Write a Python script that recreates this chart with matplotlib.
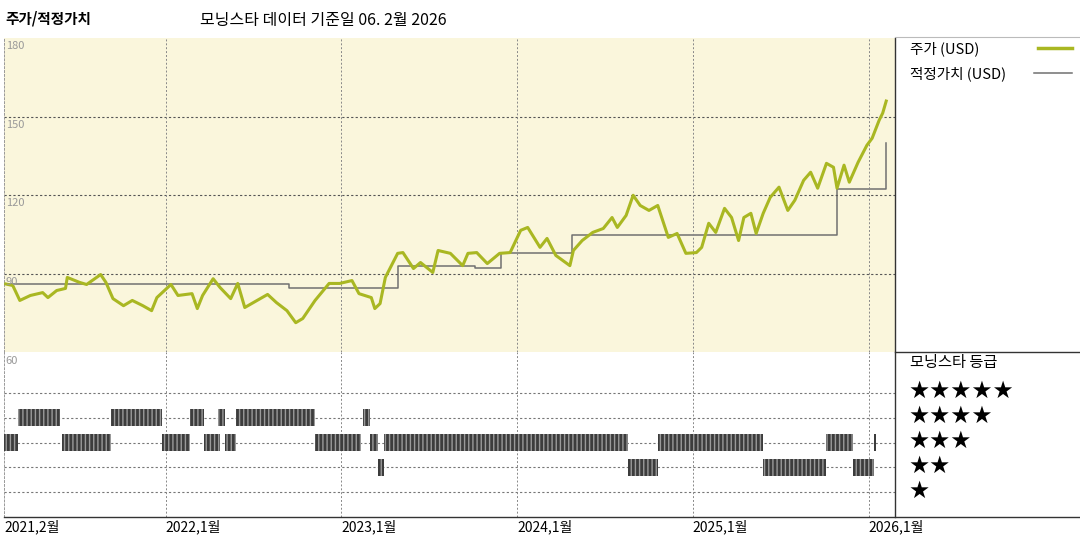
import numpy as np
import matplotlib.pyplot as plt
from matplotlib.lines import Line2D

plt.rcParams['font.family'] = ['Noto Sans CJK KR', 'DejaVu Sans']

# price (USD), time as decimal year
price_t = [2021.09, 2021.13, 2021.17, 2021.23, 2021.30, 2021.33, 2021.38, 2021.43, 2021.44, 2021.51,
           2021.55, 2021.63, 2021.66, 2021.70, 2021.76, 2021.81, 2021.87, 2021.92, 2021.95, 2022.03,
           2022.07, 2022.15, 2022.18, 2022.21, 2022.27, 2022.31, 2022.37, 2022.41, 2022.45, 2022.52,
           2022.58, 2022.63, 2022.69, 2022.74, 2022.78, 2022.85, 2022.93, 2022.99, 2023.06, 2023.10,
           2023.17, 2023.19, 2023.22, 2023.25, 2023.32, 2023.35, 2023.41, 2023.45, 2023.52, 2023.55,
           2023.62, 2023.69, 2023.72, 2023.77, 2023.83, 2023.90, 2023.96, 2024.02, 2024.06, 2024.13,
           2024.17, 2024.22, 2024.30, 2024.32, 2024.37, 2024.43, 2024.49, 2024.54, 2024.57, 2024.62,
           2024.66, 2024.70, 2024.75, 2024.80, 2024.86, 2024.91, 2024.96, 2025.02, 2025.05, 2025.09,
           2025.13, 2025.18, 2025.22, 2025.26, 2025.29, 2025.33, 2025.36, 2025.40, 2025.44, 2025.49,
           2025.54, 2025.58, 2025.63, 2025.67, 2025.71, 2025.76, 2025.80, 2025.82, 2025.86, 2025.89,
           2025.94, 2025.99, 2026.02, 2026.06, 2026.08, 2026.10]
price = [86, 85.4, 79.7, 81.6, 82.7, 80.8, 83.5, 84.3, 88.5, 86.6,
         85.8, 89.6, 86.6, 80.4, 77.7, 79.7, 77.7, 75.8, 80.8, 85.8,
         81.6, 82.3, 76.6, 81.6, 88, 84.6, 80.4, 86.2, 77, 79.7,
         82, 78.9, 75.8, 71.2, 72.8, 79.7, 86.2, 86.2, 87.3, 82.3,
         80.8, 76.6, 78.5, 88.5, 97.7, 98, 91.9, 94.2, 90.4, 98.8,
         97.7, 93, 97.7, 98, 93.8, 97.7, 98, 106.5, 107.6, 100,
         103.4, 96.9, 93, 98.8, 102.6, 105.7, 107.2, 111.4, 107.6, 112.2,
         119.9, 116, 114.1, 116, 103.8, 105.3, 97.7, 98, 100, 109.2,
         105.7, 114.9, 111.4, 102.6, 111.4, 113, 105.3, 113, 119.1, 123,
         114.1, 118, 125.6, 128.7, 122.6, 132.1, 130.6, 122.6, 131.4, 124.9,
         132.5, 139, 141.7, 148.6, 151.3, 155.9]

# fair value steps
fair_t = [2021.08, 2022.70, 2023.32, 2023.76, 2023.91, 2024.31, 2025.82, 2026.10]
fair_v = [86, 84.6, 92.7, 92.0, 97.8, 104.7, 122.2, 140]

# star rating periods (start, end)
rating_4 = [(2021.16, 2021.40), (2021.69, 2021.98), (2022.14, 2022.22), (2022.30, 2022.34),
            (2022.40, 2022.85), (2023.12, 2023.16)]
rating_3 = [(2021.08, 2021.16), (2021.41, 2021.69), (2021.98, 2022.14), (2022.22, 2022.31),
            (2022.34, 2022.40), (2022.85, 2023.11), (2023.16, 2023.21), (2023.24, 2024.63),
            (2024.80, 2025.40), (2025.76, 2025.91), (2026.03, 2026.04)]
rating_2 = [(2023.21, 2023.24), (2024.63, 2024.80), (2025.40, 2025.76), (2025.91, 2026.03)]

years = [2022, 2023, 2024, 2025, 2026]
xlabels = ['2021,2월', '2022,1월', '2023,1월', '2024,1월', '2025,1월', '2026,1월']
yticks = [180, 150, 120, 90, 60]

x0, x1 = 2021.08, 2026.15
W, H = 1080, 540
fig = plt.figure(figsize=(10.8, 5.4), dpi=100)

def fx(px):
    return px / W

def fy(py):
    return 1 - py / H

ax = fig.add_axes([fx(4), fy(352), fx(895) - fx(4), fy(38) - fy(352)])
ax.set_facecolor('#faf6dc')
ax.set_xlim(x0, x1)
ax.set_ylim(60, 180)
ax.plot(price_t, price, color='#a9b722', lw=2.2, zorder=3)
ax.step(fair_t, fair_v, where='post', color='#707070', lw=1.1, zorder=2)
for v in [90, 120, 150]:
    ax.axhline(v, color='#555', lw=0.8, ls=(0, (2, 2)))
for y in years:
    ax.axvline(y, color='#888', lw=0.7, ls=(0, (2, 2)))
for v in yticks[:-1]:
    ax.text(x0 + 0.01, v - 1.2, str(v), color='#999', fontsize=8, va='top', ha='left')
ax.set_xticks([])
ax.set_yticks([])
for s in ax.spines.values():
    s.set_color('#999')
    s.set_linestyle((0, (2, 2)))
    s.set_linewidth(0.7)
ax.spines['top'].set_visible(False)
ax.spines['right'].set_visible(False)

bx = fig.add_axes([fx(4), fy(517), fx(895) - fx(4), fy(352) - fy(517)])
bx.set_xlim(x0, x1)
bx.set_ylim(0, 6.66)
for r in [1, 2, 3, 4, 5]:
    bx.axhline(r, color='#777', lw=0.8, ls=(0, (2, 2)))
for y in years:
    bx.axvline(y, color='#888', lw=0.7, ls=(0, (2, 2)))
for row, segs in [(4, rating_4), (3, rating_3), (2, rating_2)]:
    bx.broken_barh([(a, b - a) for a, b in segs], (row - 0.34, 0.68),
                   facecolor='#3c3c3c', edgecolor='#9a9a9a', hatch='||||', lw=0, zorder=3)
bx.text(x0 + 0.01, 6.5, '60', color='#999', fontsize=8, va='top', ha='left')
bx.set_xticks([])
bx.set_yticks([])
for s in bx.spines.values():
    s.set_color('#999')
    s.set_linestyle((0, (2, 2)))
    s.set_linewidth(0.7)
bx.spines['top'].set_visible(False)
bx.spines['right'].set_visible(False)
bx.spines['bottom'].set_visible(False)

# x labels
for lab, t in zip(xlabels, [x0] + years):
    bx.text(t, -0.1, lab, fontsize=10, va='top', ha='left', transform=bx.transData, clip_on=False)

# frame lines
fig.add_artist(Line2D([fx(4), 1], [fy(517)] * 2, color='#333', lw=1))
fig.add_artist(Line2D([fx(895)] * 2, [fy(38), fy(517)], color='#333', lw=1))
fig.add_artist(Line2D([fx(895), 1], [fy(352)] * 2, color='#333', lw=1))
fig.add_artist(Line2D([fx(895), 1], [fy(37)] * 2, color='#bbb', lw=0.8))

# titles
fig.text(fx(5), fy(18), '주가/적정가치', fontsize=10.5, fontweight='bold', va='center')
fig.text(fx(200), fy(20), '모닝스타 데이터 기준일 06. 2월 2026', fontsize=11.5, va='center')

# legend
fig.text(fx(910), fy(49), '주가 (USD)', fontsize=10.5, va='center')
fig.add_artist(Line2D([fx(1038), fx(1072)], [fy(48)] * 2, color='#a9b722', lw=2.5))
fig.text(fx(910), fy(74), '적정가치 (USD)', fontsize=10.5, va='center')
fig.add_artist(Line2D([fx(1034), fx(1072)], [fy(73)] * 2, color='#707070', lw=1.1))

fig.text(fx(910), fy(363), '모닝스타 등급', fontsize=11, va='center')
for n, py in zip([5, 4, 3, 2, 1], [391, 416, 441, 466, 491]):
    fig.text(fx(908), fy(py), '★' * n, fontsize=17, va='center', family=['DejaVu Sans'])

fig.savefig('out.png', dpi=100)
